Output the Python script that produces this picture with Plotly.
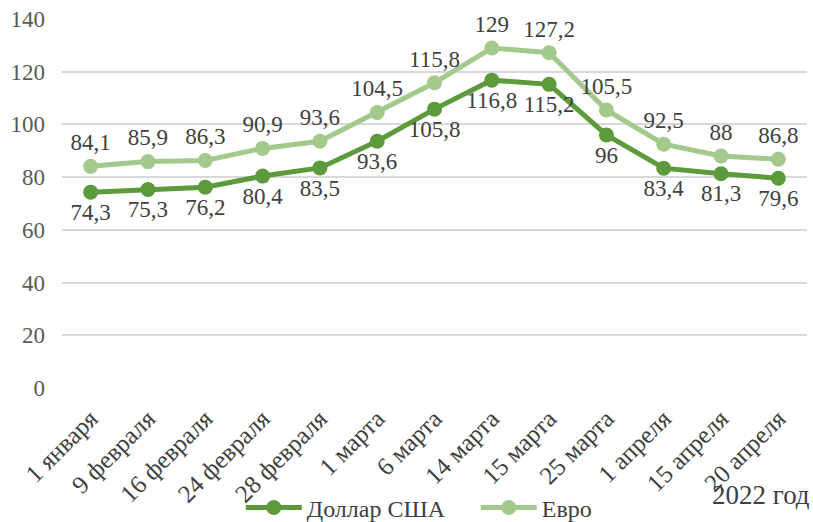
import plotly.graph_objects as go

categories = ["1 января", "9 февраля", "16 февраля", "24 февраля", "28 февраля",
              "1 марта", "6 марта", "14 марта", "15 марта", "25 марта",
              "1 апреля", "15 апреля", "20 апреля"]
usd = [74.3, 75.3, 76.2, 80.4, 83.5, 93.6, 105.8, 116.8, 115.2, 96, 83.4, 81.3, 79.6]
eur = [84.1, 85.9, 86.3, 90.9, 93.6, 104.5, 115.8, 129, 127.2, 105.5, 92.5, 88, 86.8]
y_ticks = [0, 20, 40, 60, 80, 100, 120, 140]

def fmt(v):
    return str(v).replace(".", ",")

FONT = "Liberation Serif"
TXT = "#404040"
DARK = "#5c9a3b"
LIGHT = "#a3c98c"

fig = go.Figure()
fig.add_trace(go.Scatter(
    x=categories, y=usd, name="Доллар США", mode="lines+markers+text",
    line=dict(color=DARK, width=5), marker=dict(size=15, color=DARK),
    text=[fmt(v) for v in usd], textposition="bottom center",
    textfont=dict(family=FONT, size=23, color=TXT), cliponaxis=False))
fig.add_trace(go.Scatter(
    x=categories, y=eur, name="Евро", mode="lines+markers+text",
    line=dict(color=LIGHT, width=5), marker=dict(size=15, color=LIGHT),
    text=[fmt(v) for v in eur], textposition="top center",
    textfont=dict(family=FONT, size=23, color=TXT), cliponaxis=False))

fig.update_layout(
    width=813, height=522,
    margin=dict(l=62, r=6, t=19, b=134, autoexpand=False),
    paper_bgcolor="white", plot_bgcolor="white",
    font=dict(family=FONT, size=22, color=TXT),
    showlegend=True,
    legend=dict(orientation="h", x=0.24, xanchor="left",
                yref="container", y=0.027, yanchor="middle",
                bgcolor="rgba(0,0,0,0)",
                font=dict(family=FONT, size=24, color=TXT),
                itemwidth=56, entrywidth=164, entrywidthmode="pixels",
                traceorder="normal"),
    xaxis=dict(type="category", tickangle=-45, showgrid=False, showline=False,
               ticks="", tickfont=dict(family=FONT, size=25, color=TXT),
               ticklabelstandoff=10,
               range=[-0.5, len(categories) - 0.5], automargin=False),
    yaxis=dict(range=[0, 140], tickvals=y_ticks, showgrid=True, gridcolor="#d9d9d9",
               gridwidth=1.5, zeroline=False, showline=False, ticks="",
               ticklabelstandoff=16,
               tickfont=dict(family=FONT, size=23, color="#595959"), automargin=False),
    annotations=[dict(text="2022 год", xref="paper", yref="paper", x=1.007, y=-0.29,
                      xanchor="right", yanchor="middle", showarrow=False,
                      font=dict(family=FONT, size=27, color=TXT))],
)
fig.write_html("out.html", config={"displayModeBar": False},
               post_script="document.body.style.margin='0';document.body.style.overflow='hidden';")
